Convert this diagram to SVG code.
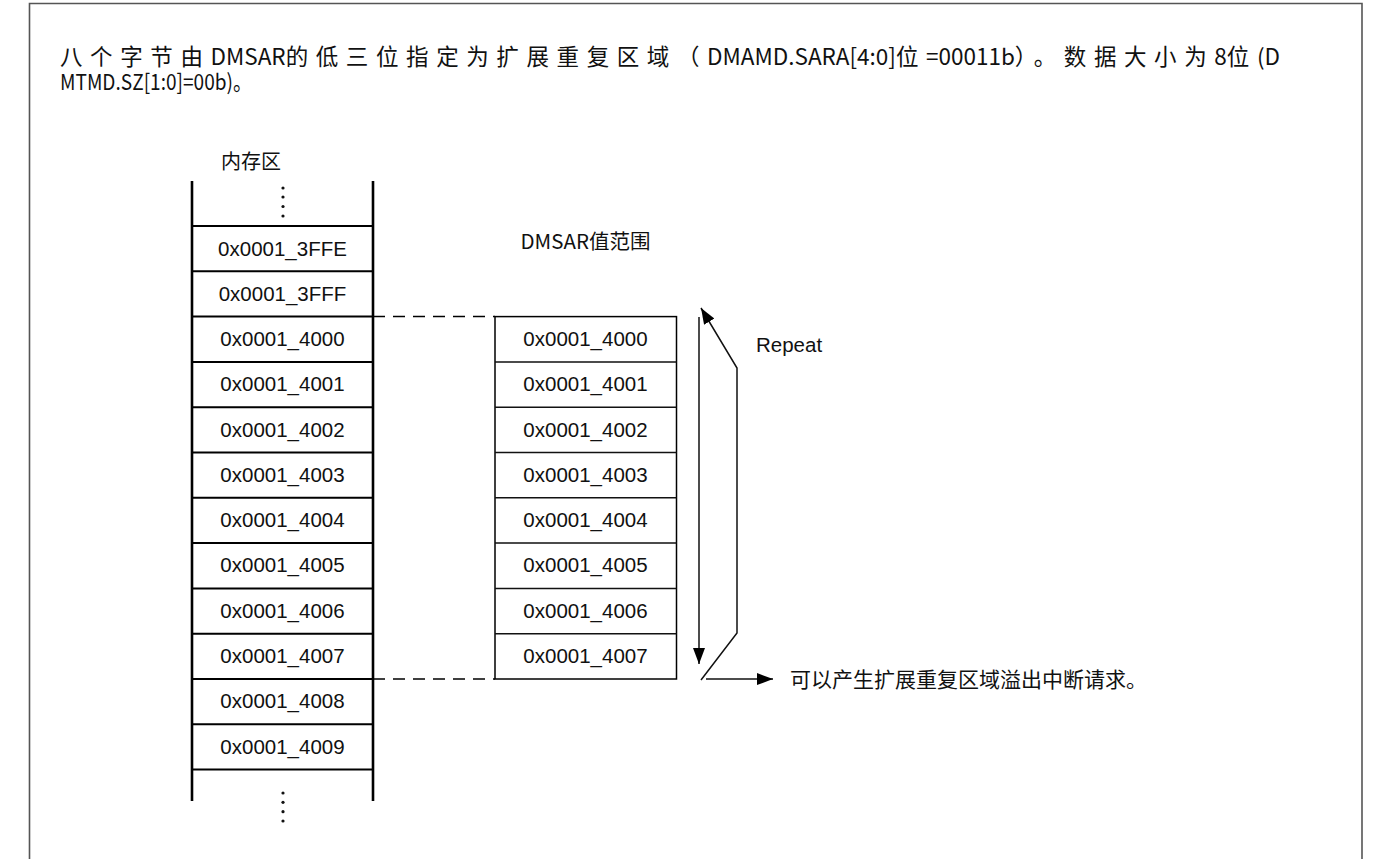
<svg xmlns="http://www.w3.org/2000/svg" width="1379" height="859" viewBox="0 0 1379 859">
<defs>
<style>
.frame{fill:none;stroke:#555;stroke-width:1.6}
.col{stroke:#000;stroke-width:2.6;fill:none}
.div{stroke:#000;stroke-width:2;fill:none}
.box{fill:#fff;stroke:#000;stroke-width:1.5}
.lbl{font-family:"Liberation Sans",Arial,sans-serif;font-size:20.5px;fill:#111;text-anchor:middle}
.lbls{font-family:"Liberation Sans",Arial,sans-serif;font-size:20.5px;fill:#111;text-anchor:start}
.cjk{font-family:"Noto Sans CJK SC",sans-serif;fill:#111}
.sp{letter-spacing:7.6px}
.dash{stroke:#000;stroke-width:1.5;stroke-dasharray:12 8;fill:none}
.ln{stroke:#111;stroke-width:1.5;fill:none}
.dot{fill:#111}
</style>
<marker id="ah" viewBox="0 0 16 12" refX="16" refY="6" markerWidth="16" markerHeight="12" markerUnits="userSpaceOnUse" orient="auto">
<path d="M0,0 L16,6 L0,12 Z" fill="#000"/>
</marker>
</defs>
<rect width="1379" height="859" fill="#fff"/>
<path class="frame" d="M29.5,859 V3.5 H1362 V859"/>
<g id="header">
<text class="cjk" x="60" y="65" font-size="22.5"><tspan class="sp">八个字节由</tspan>DMSAR<tspan class="sp">的低三位指定为扩展重复区域（</tspan>DMAMD.SARA[4:0]<tspan class="sp">位</tspan>=00011b<tspan class="sp">）。数据大小为</tspan>8<tspan class="sp">位</tspan>(D</text>
<text class="cjk" x="60" y="90" font-size="22" textLength="192" lengthAdjust="spacingAndGlyphs">MTMD.SZ[1:0]=00b)。</text>
</g>
<g id="memory">
<text class="cjk" x="221" y="169" font-size="20">内存区</text>
<path class="col" d="M192,181 V801 M373,181 V801"/>
<path class="div" d="M192,226 H373 M192,271.3 H373 M192,316.6 H373 M192,361.9 H373 M192,407.2 H373 M192,452.5 H373 M192,497.8 H373 M192,543.1 H373 M192,588.4 H373 M192,633.7 H373 M192,679 H373 M192,724.3 H373 M192,769.6 H373"/>
<g class="dot"><circle cx="283" cy="188" r="1.6"/><circle cx="283" cy="197" r="1.6"/><circle cx="283" cy="206.5" r="1.6"/><circle cx="283" cy="216" r="1.6"/>
<circle cx="283" cy="793" r="1.6"/><circle cx="283" cy="802.3" r="1.6"/><circle cx="283" cy="811.7" r="1.6"/><circle cx="283" cy="821" r="1.6"/></g>
<text class="lbl" x="282.5" y="256">0x0001_3FFE</text>
<text class="lbl" x="282.5" y="301">0x0001_3FFF</text>
<text class="lbl" x="282.5" y="346">0x0001_4000</text>
<text class="lbl" x="282.5" y="391">0x0001_4001</text>
<text class="lbl" x="282.5" y="437">0x0001_4002</text>
<text class="lbl" x="282.5" y="482">0x0001_4003</text>
<text class="lbl" x="282.5" y="527">0x0001_4004</text>
<text class="lbl" x="282.5" y="572">0x0001_4005</text>
<text class="lbl" x="282.5" y="618">0x0001_4006</text>
<text class="lbl" x="282.5" y="663">0x0001_4007</text>
<text class="lbl" x="282.5" y="708">0x0001_4008</text>
<text class="lbl" x="282.5" y="754">0x0001_4009</text>
</g>
<g id="range">
<text class="cjk" x="585.5" y="249" font-size="20.5" text-anchor="middle">DMSAR值范围</text>
<rect class="box" x="495" y="316.6" width="181.5" height="362.4"/>
<path class="ln" d="M495,361.9 H676.5 M495,407.2 H676.5 M495,452.5 H676.5 M495,497.8 H676.5 M495,543.1 H676.5 M495,588.4 H676.5 M495,633.7 H676.5"/>
<text class="lbl" x="585.5" y="346">0x0001_4000</text>
<text class="lbl" x="585.5" y="391">0x0001_4001</text>
<text class="lbl" x="585.5" y="437">0x0001_4002</text>
<text class="lbl" x="585.5" y="482">0x0001_4003</text>
<text class="lbl" x="585.5" y="527">0x0001_4004</text>
<text class="lbl" x="585.5" y="572">0x0001_4005</text>
<text class="lbl" x="585.5" y="618">0x0001_4006</text>
<text class="lbl" x="585.5" y="663">0x0001_4007</text>
</g>
<g id="repeat-label"><text class="lbls" x="756" y="352">Repeat</text></g>
<g id="overflow-label"><text class="cjk" x="790" y="687" font-size="21">可以产生扩展重复区域溢出中断请求。</text></g>
<g id="connectors">
<path class="dash" d="M373,316.6 H495"/>
<path class="dash" d="M373,679 H495"/>
<path class="ln" d="M699,317 V664" marker-end="url(#ah)"/>
<path class="ln" d="M701,680 L737,633 V368 L701,308" marker-end="url(#ah)"/>
<path class="ln" d="M706,679 H773" marker-end="url(#ah)"/>
</g>
</svg>
